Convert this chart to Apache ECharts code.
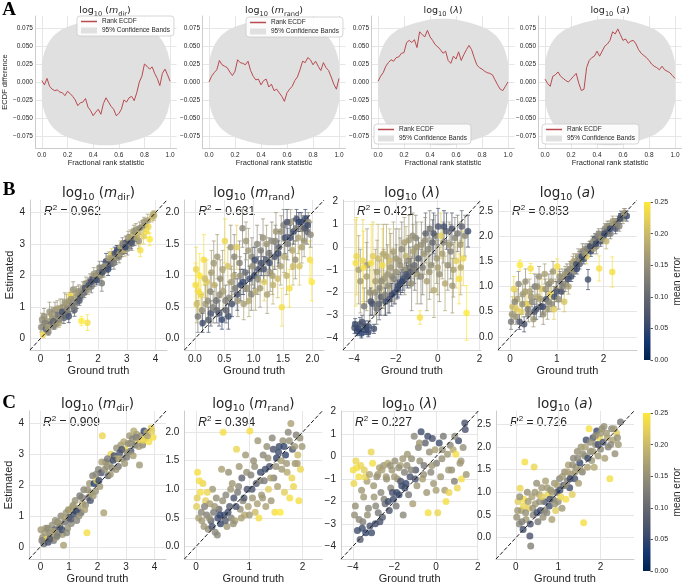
<!DOCTYPE html>
<html>
<head>
<meta charset="utf-8">
<script src="https://cdn.jsdelivr.net/npm/echarts@6/dist/echarts.min.js"></script>
<style>
html, body { margin: 0; padding: 0; background: #fff; }
#chart { width: 683px; height: 585px; }
</style>
</head>
<body>
<div id="chart"></div>
<script>
// ---------- data ----------
// rank ECDF difference, sampled on an even grid over [0, 1]
var ecdfMdir = [0.002,-0.004,0.005,-0.006,-0.010,-0.012,-0.011,-0.014,-0.015,-0.019,
  -0.013,-0.016,-0.020,-0.025,-0.033,-0.029,-0.028,-0.023,-0.035,-0.040,
  -0.047,-0.042,-0.038,-0.045,-0.030,-0.022,-0.028,-0.034,-0.038,-0.047,
  -0.044,-0.038,-0.025,-0.028,-0.022,-0.020,-0.026,-0.015,0.000,0.008,
  0.025,0.022,0.018,0.021,0.012,0.005,-0.005,0.012,0.018,0.010,0.001];
var ecdfMrand = [0.000,0.008,0.013,0.017,0.030,0.024,0.022,0.020,0.014,0.009,
  0.015,0.031,0.027,0.026,0.024,0.029,0.016,0.008,0.003,0.004,
  -0.004,0.002,0.004,-0.007,-0.003,-0.012,-0.010,-0.015,-0.020,-0.027,
  -0.015,-0.010,-0.006,0.002,0.007,0.017,0.029,0.027,0.034,0.031,
  0.024,0.029,0.022,0.016,0.027,0.020,0.016,0.007,-0.003,-0.010,0.005];
var ecdfLam = [0.001,0.008,0.013,0.022,0.027,0.031,0.029,0.034,0.035,0.040,
  0.041,0.055,0.058,0.055,0.059,0.048,0.070,0.066,0.063,0.072,
  0.063,0.058,0.052,0.049,0.045,0.040,0.043,0.030,0.026,0.036,
  0.032,0.042,0.030,0.038,0.045,0.051,0.045,0.034,0.024,0.020,
  0.018,0.015,0.013,0.012,0.010,0.003,-0.004,-0.010,-0.012,-0.006,0.000];
var ecdfA = [0.004,-0.002,-0.006,0.008,0.010,0.014,0.008,0.005,0.002,0.000,
  0.004,0.008,0.012,-0.002,-0.012,-0.010,0.020,0.030,0.034,0.036,
  0.043,0.036,0.043,0.050,0.053,0.058,0.070,0.067,0.074,0.066,
  0.058,0.060,0.054,0.057,0.058,0.053,0.045,0.040,0.037,0.034,
  0.030,0.025,0.022,0.020,0.017,0.022,0.017,0.015,0.013,0.009,0.005];

// 95% confidence band half-width
var bandX  = [0,0.02,0.04,0.06,0.08,0.1,0.15,0.2,0.25,0.3,0.35,0.4,0.45,0.5,0.55,0.6,0.65,0.7,0.75,0.8,0.85,0.9,0.92,0.94,0.96,0.98,1];
var bandHi = [0.028,0.042,0.051,0.057,0.062,0.066,0.073,0.077,0.080,0.083,0.085,0.087,0.088,0.088,0.088,0.087,0.085,0.083,0.080,0.077,0.073,0.066,0.062,0.057,0.051,0.042,0.028];

// SBC with posterior std: [ground truth, estimate, sd, mean error]
var mdirB = [[0.02,0.35,0.15,0.14],[0.08,0.12,0.1,0.23],[0.12,0.7,0.25,0.15],[0.18,0.3,0.12,0.08],[0.22,0.55,0.2,0.16],
  [0.27,0.2,0.1,0.13],[0.31,0.85,0.3,0.15],[0.35,0.45,0.15,0.1],[0.41,0.65,0.2,0.17],[0.46,0.4,0.12,0.12],
  [0.5,0.9,0.25,0.14],[0.55,0.6,0.2,0.16],[0.6,0.75,0.2,0.11],[0.63,0.5,0.15,0.18],[0.68,0.95,0.3,0.15],
  [0.72,0.7,0.2,0.13],[0.77,1.0,0.25,0.16],[0.81,0.65,0.18,0.09],[0.86,0.85,0.2,0.14],[0.9,1.1,0.3,0.17],
  [0.95,0.8,0.2,0.12],[1.0,1.2,0.25,0.16],[1.04,1.35,0.15,0.24],[1.08,1.05,0.2,0.13],[1.13,1.55,0.25,0.15],
  [1.18,0.9,0.2,0.08],[1.22,1.3,0.2,0.17],[1.27,1.15,0.2,0.11],[1.33,1.5,0.2,0.14],[1.38,1.35,0.15,0.07],
  [1.42,0.55,0.15,0.25],[1.47,1.6,0.2,0.15],[1.52,1.45,0.15,0.1],[1.58,1.75,0.2,0.16],[1.63,0.5,0.25,0.24],
  [1.68,1.7,0.15,0.06],[1.72,1.85,0.2,0.14],[1.77,1.65,0.2,0.12],[1.83,1.9,0.15,0.07],[1.88,1.85,0.2,0.15],
  [1.93,2.0,0.15,0.1],[1.97,1.95,0.15,0.17],[2.03,2.1,0.2,0.13],[2.08,2.0,0.15,0.16],[2.13,1.75,0.25,0.12],
  [2.17,2.25,0.2,0.08],[2.22,2.15,0.2,0.18],[2.28,2.45,0.25,0.06],[2.33,2.3,0.2,0.14],[2.37,2.55,0.2,0.17],
  [2.42,2.35,0.15,0.07],[2.47,2.65,0.2,0.22],[2.52,2.5,0.2,0.13],[2.58,2.7,0.2,0.06],[2.63,2.55,0.2,0.16],
  [2.67,2.8,0.15,0.05],[2.73,2.6,0.2,0.12],[2.78,2.9,0.2,0.18],[2.82,2.75,0.15,0.06],[2.87,2.95,0.15,0.15],
  [2.92,2.8,0.2,0.2],[2.97,3.05,0.2,0.07],[3.02,2.85,0.2,0.14],[3.07,3.1,0.2,0.08],[3.12,3.2,0.25,0.16],
  [3.17,3.0,0.2,0.12],[3.22,3.3,0.2,0.19],[3.27,3.15,0.2,0.09],[3.32,3.45,0.2,0.16],[3.37,3.35,0.2,0.21],
  [3.42,3.1,0.25,0.15],[3.47,2.8,0.2,0.24],[3.53,3.55,0.2,0.18],[3.58,3.25,0.25,0.22],[3.63,3.6,0.2,0.14],
  [3.68,3.4,0.2,0.24],[3.73,3.75,0.2,0.17],[3.8,3.15,0.2,0.25],[3.88,3.85,0.15,0.2],[3.95,3.9,0.15,0.19],
  [0.05,0.6,0.2,0.15],[0.15,0.5,0.15,0.13],[0.25,0.35,0.15,0.17],[0.38,0.75,0.25,0.16],[0.44,0.55,0.15,0.09],
  [0.52,0.45,0.15,0.15],[0.58,0.95,0.25,0.17],[0.66,0.6,0.2,0.14],[0.75,0.85,0.2,0.07],[0.84,1.15,0.3,0.16],
  [0.92,0.95,0.2,0.14],[0.98,0.7,0.2,0.06],[1.06,1.25,0.2,0.15],[1.15,1.0,0.2,0.12],[1.25,1.45,0.2,0.16],
  [1.35,1.2,0.15,0.08],[1.45,1.4,0.15,0.13],[1.55,1.6,0.2,0.07],[1.65,1.55,0.15,0.15],[1.75,1.8,0.15,0.06],
  [1.85,2.05,0.2,0.16],[1.95,1.85,0.15,0.05],[2.05,2.25,0.2,0.14],[2.15,2.1,0.15,0.06],[2.25,2.3,0.2,0.15],
  [2.35,2.2,0.2,0.05],[2.45,2.55,0.2,0.16],[2.55,2.4,0.2,0.12],[2.65,2.75,0.2,0.07],[2.75,2.7,0.2,0.17],
  [2.85,3.0,0.2,0.13],[2.95,2.9,0.2,0.05],[3.05,3.2,0.2,0.17],[3.15,3.05,0.2,0.07],[3.25,3.4,0.2,0.15],
  [3.35,3.2,0.2,0.18],[3.45,3.5,0.2,0.14],[3.6,3.7,0.15,0.16],[3.75,3.55,0.2,0.23],[3.92,3.95,0.1,0.18]];
var mrandB = [[0.01,0.85,0.35,0.24],[0.03,0.55,0.3,0.2],[0.05,0.35,0.25,0.12],[0.08,1.0,0.35,0.25],[0.1,0.7,0.3,0.23],
  [0.13,0.25,0.15,0.06],[0.15,1.25,0.4,0.24],[0.18,0.55,0.3,0.16],[0.2,0.9,0.35,0.22],[0.23,0.3,0.2,0.08],
  [0.26,0.75,0.3,0.14],[0.28,1.05,0.35,0.17],[0.31,0.5,0.25,0.13],[0.33,0.85,0.3,0.19],[0.36,0.6,0.25,0.11],
  [0.38,1.3,0.35,0.16],[0.41,0.4,0.2,0.07],[0.43,0.95,0.3,0.15],[0.46,0.3,0.15,0.05],[0.48,0.75,0.3,0.17],
  [0.51,1.55,0.35,0.23],[0.53,0.45,0.2,0.09],[0.56,1.15,0.3,0.21],[0.58,0.65,0.25,0.14],[0.61,1.45,0.35,0.15],
  [0.63,0.55,0.2,0.07],[0.66,1.0,0.3,0.18],[0.68,0.8,0.25,0.12],[0.71,1.45,0.35,0.22],[0.73,0.6,0.25,0.16],
  [0.76,1.2,0.35,0.13],[0.78,0.85,0.25,0.06],[0.81,1.75,0.3,0.14],[0.83,0.55,0.25,0.17],[0.86,1.05,0.3,0.1],
  [0.88,0.8,0.25,0.15],[0.91,1.4,0.35,0.16],[0.93,0.95,0.2,0.06],[0.96,0.7,0.25,0.13],[0.98,1.15,0.3,0.15],
  [1.01,1.0,0.2,0.05],[1.03,0.75,0.3,0.18],[1.06,1.5,0.3,0.14],[1.08,1.1,0.2,0.07],[1.11,0.8,0.3,0.16],
  [1.13,1.2,0.2,0.06],[1.16,1.6,0.3,0.15],[1.18,0.9,0.3,0.22],[1.21,1.25,0.25,0.08],[1.23,0.7,0.3,0.17],
  [1.26,1.35,0.25,0.12],[1.28,1.05,0.3,0.15],[1.31,1.55,0.3,0.14],[1.33,0.85,0.3,0.19],[1.36,1.3,0.2,0.07],
  [1.38,1.7,0.3,0.16],[1.41,0.95,0.3,0.2],[1.43,1.45,0.25,0.09],[1.46,1.15,0.3,0.17],[1.48,0.5,0.3,0.24],
  [1.51,1.8,0.25,0.13],[1.53,1.6,0.25,0.06],[1.56,1.0,0.3,0.19],[1.58,1.5,0.25,0.12],[1.61,0.8,0.3,0.24],
  [1.63,1.85,0.2,0.16],[1.66,1.4,0.3,0.18],[1.68,1.7,0.2,0.05],[1.71,1.25,0.3,0.15],[1.73,1.9,0.15,0.07],
  [1.76,1.6,0.25,0.17],[1.78,1.15,0.3,0.21],[1.81,1.85,0.15,0.06],[1.83,1.75,0.2,0.14],[1.86,1.55,0.25,0.16],
  [1.88,1.9,0.15,0.05],[1.91,1.7,0.2,0.1],[1.93,1.85,0.15,0.15],[1.96,1.25,0.3,0.24],[1.99,0.9,0.3,0.25],
  [0.02,1.1,0.35,0.23],[0.06,0.75,0.3,0.24],[0.12,0.45,0.25,0.14],[0.17,0.95,0.3,0.2],[0.22,0.6,0.3,0.15],
  [0.27,0.4,0.2,0.07],[0.32,1.2,0.35,0.16],[0.37,0.45,0.2,0.1],[0.42,0.7,0.25,0.15],[0.47,1.1,0.3,0.17],
  [0.52,0.6,0.25,0.13],[0.57,0.35,0.2,0.06],[0.62,0.9,0.25,0.16],[0.67,1.3,0.35,0.14],[0.72,0.7,0.25,0.07],
  [0.77,1.0,0.3,0.15],[0.82,0.9,0.2,0.05],[0.87,1.55,0.3,0.16],[0.92,0.6,0.25,0.18],[0.97,1.3,0.3,0.14],
  [1.02,1.25,0.2,0.06],[1.07,0.95,0.25,0.15],[1.12,1.4,0.25,0.13],[1.17,1.1,0.2,0.07],[1.22,1.5,0.3,0.16],
  [1.27,1.2,0.2,0.06],[1.32,1.0,0.3,0.17],[1.37,1.55,0.25,0.14],[1.42,1.35,0.2,0.06],[1.47,1.7,0.25,0.15],
  [1.52,1.3,0.25,0.18],[1.57,1.85,0.2,0.07],[1.62,1.6,0.2,0.06],[1.67,1.15,0.3,0.2],[1.72,1.75,0.2,0.12],
  [1.77,1.85,0.15,0.05],[1.82,1.45,0.25,0.17],[1.87,1.75,0.2,0.08],[1.92,1.8,0.15,0.06],[1.97,1.65,0.2,0.14]];
var lamB = [[-3.98,-3.55,0.25,0.07],[-3.92,-0.7,1.9,0.24],[-3.85,-3.7,0.2,0.05],[-3.78,-1.0,1.5,0.17],[-3.72,-3.4,0.3,0.08],
  [-3.65,-3.8,0.2,0.04],[-3.58,-0.6,1.8,0.23],[-3.52,-2.6,0.8,0.12],[-3.45,-3.5,0.25,0.06],[-3.38,-0.8,1.6,0.16],
  [-3.32,-3.75,0.2,0.05],[-3.25,-2.0,1.3,0.15],[-3.18,-0.7,1.7,0.24],[-3.12,-2.5,0.5,0.07],[-3.05,-3.6,0.2,0.06],
  [-2.98,-1.5,1.4,0.17],[-2.92,-2.7,0.7,0.11],[-2.85,-0.5,1.5,0.2],[-2.78,-1.8,1.2,0.14],[-2.72,-2.2,0.8,0.09],
  [-2.65,-0.8,1.6,0.24],[-2.58,-1.4,1.3,0.16],[-2.52,-2.1,0.9,0.13],[-2.45,-0.4,1.4,0.18],[-2.38,-1.7,1.2,0.15],
  [-2.32,-2.3,0.6,0.07],[-2.25,-0.9,1.5,0.16],[-2.18,-1.3,1.1,0.14],[-2.12,-0.2,1.3,0.17],[-2.05,-2.0,0.5,0.06],
  [-1.98,-1.1,1.2,0.15],[-1.92,-1.85,0.4,0.05],[-1.85,-0.6,1.4,0.16],[-1.78,-1.6,0.5,0.06],[-1.72,-0.1,1.2,0.14],
  [-1.65,-1.4,0.5,0.07],[-1.58,-1.0,1.1,0.15],[-1.52,-0.4,1.3,0.19],[-1.45,-1.3,0.5,0.06],[-1.38,0.3,1.1,0.16],
  [-1.32,-0.9,0.9,0.12],[-1.25,-1.6,1.2,0.15],[-1.18,-0.2,1.2,0.17],[-1.12,-0.8,0.8,0.1],[-1.05,0.4,1.0,0.14],
  [-0.98,-1.2,1.3,0.16],[-0.92,-0.5,0.9,0.08],[-0.85,-3.1,0.3,0.24],[-0.78,0.1,1.0,0.15],[-0.72,-0.9,1.2,0.13],
  [-0.65,-0.3,0.9,0.16],[-0.58,0.6,0.9,0.09],[-0.52,-1.5,1.3,0.17],[-0.45,-0.1,1.0,0.14],[-0.38,0.8,0.8,0.12],
  [-0.32,-0.8,1.2,0.15],[-0.25,0.2,1.0,0.1],[-0.18,-1.9,1.2,0.18],[-0.12,0.5,0.9,0.13],[-0.05,-0.5,1.1,0.16],
  [0.02,0.9,0.8,0.07],[0.08,-1.2,1.2,0.15],[0.15,0.5,1.0,0.22],[0.22,-0.3,1.1,0.17],[0.28,0.2,0.9,0.14],
  [0.35,-1.6,1.2,0.18],[0.42,0.7,0.8,0.08],[0.48,-0.8,1.1,0.15],[0.55,0.1,1.0,0.16],[0.62,-0.2,1.2,0.13],
  [0.68,0.8,0.7,0.07],[0.75,-1.0,1.2,0.17],[0.82,0.4,0.9,0.14],[0.88,-0.6,1.2,0.22],[0.95,0.6,0.8,0.12],
  [1.02,-1.4,1.1,0.24],[1.08,0.1,1.0,0.16],[1.15,0.9,0.7,0.09],[1.22,-0.5,1.2,0.23],[1.3,0.5,0.9,0.14],
  [1.38,-2.9,1.2,0.25],[1.45,0.7,0.7,0.06],
  [-3.95,-3.4,0.25,0.06],[-3.88,-0.4,1.7,0.23],[-3.8,-3.6,0.2,0.05],[-3.7,-1.5,1.4,0.16],[-3.62,-3.3,0.3,0.07],
  [-3.55,-0.9,1.6,0.24],[-3.48,-3.65,0.2,0.05],[-3.4,-1.3,1.5,0.17],[-3.3,-3.5,0.25,0.06],[-3.2,-2.4,0.6,0.07],
  [-3.1,-0.4,1.5,0.22],[-3.0,-2.0,1.0,0.15],[-2.9,-1.1,1.4,0.17],[-2.8,-2.5,0.7,0.09],[-2.7,-1.5,1.2,0.15],
  [-2.6,-0.3,1.3,0.18],[-2.5,-2.4,0.6,0.06],[-2.4,-1.2,1.3,0.16],[-2.3,-0.6,1.4,0.2],[-2.2,-2.1,0.5,0.05],
  [-2.1,-1.4,1.1,0.14],[-2.0,-0.5,1.3,0.16],[-1.9,-1.7,0.5,0.06],[-1.8,-0.8,1.2,0.15],[-1.7,-1.5,0.5,0.05],
  [-1.6,0.2,1.1,0.17],[-1.5,-1.2,0.5,0.07],[-1.4,-0.6,1.1,0.14],[-1.3,-1.1,0.6,0.08],[-1.2,0.5,1.0,0.15],
  [-1.1,-1.0,0.9,0.12],[-1.0,0.0,1.1,0.16],[-0.8,-1.3,1.2,0.14],[-0.6,0.3,1.0,0.15],[-0.4,-1.1,1.2,0.16],
  [-0.2,0.6,0.9,0.08],[0.0,-0.9,1.2,0.17],[0.3,0.9,0.7,0.06],[0.7,-1.7,1.2,0.16],[1.1,-0.9,1.2,0.18]];
var aB = [[0.02,0.3,0.15,0.12],[0.05,0.6,0.2,0.2],[0.08,0.95,0.25,0.23],[0.12,0.4,0.15,0.15],[0.15,0.75,0.2,0.17],
  [0.18,1.05,0.25,0.14],[0.21,1.43,0.1,0.25],[0.24,0.5,0.2,0.22],[0.27,0.85,0.2,0.16],[0.3,0.25,0.15,0.07],
  [0.33,1.1,0.25,0.15],[0.36,0.65,0.2,0.23],[0.39,0.45,0.15,0.13],[0.42,0.9,0.25,0.17],[0.44,1.36,0.1,0.24],
  [0.47,0.7,0.2,0.14],[0.5,0.35,0.15,0.16],[0.53,1.0,0.25,0.12],[0.56,0.55,0.2,0.06],[0.59,0.8,0.2,0.18],
  [0.62,1.2,0.2,0.15],[0.65,0.6,0.2,0.08],[0.68,0.95,0.2,0.22],[0.71,0.45,0.2,0.15],[0.74,1.25,0.2,0.17],
  [0.77,0.75,0.15,0.07],[0.8,0.55,0.2,0.16],[0.83,1.05,0.2,0.13],[0.86,0.85,0.2,0.23],[0.89,0.65,0.15,0.14],
  [0.92,1.3,0.2,0.16],[0.95,0.8,0.2,0.06],[0.98,0.95,0.2,0.17],[1.01,1.4,0.15,0.24],[1.04,0.75,0.2,0.15],
  [1.07,1.1,0.2,0.13],[1.1,0.9,0.2,0.07],[1.13,1.2,0.15,0.16],[1.16,0.7,0.2,0.21],[1.19,1.05,0.15,0.14],
  [1.22,1.3,0.15,0.12],[1.25,1.0,0.15,0.17],[1.28,1.35,0.15,0.15],[1.31,1.2,0.1,0.06],[1.34,1.45,0.15,0.16],
  [1.37,1.3,0.1,0.13],[1.4,1.5,0.15,0.18],[1.43,1.35,0.1,0.05],[1.46,1.6,0.15,0.15],[1.49,1.45,0.1,0.09],
  [1.52,1.55,0.1,0.17],[1.55,1.7,0.15,0.13],[1.58,1.55,0.1,0.06],[1.61,1.75,0.1,0.15],[1.64,1.6,0.15,0.22],
  [1.67,1.14,0.2,0.06],[1.7,1.8,0.1,0.16],[1.73,1.7,0.1,0.05],[1.76,1.85,0.15,0.14],[1.79,1.75,0.1,0.17],
  [1.82,1.95,0.1,0.07],[1.85,1.8,0.15,0.15],[1.88,2.0,0.1,0.13],[1.91,1.36,0.25,0.24],[1.94,1.9,0.1,0.06],
  [1.97,2.05,0.1,0.16],[2.0,2.0,0.1,0.05],[2.03,2.15,0.1,0.14],[2.06,1.9,0.15,0.19],[2.09,2.1,0.1,0.08],
  [2.12,2.2,0.1,0.15],[2.15,2.05,0.1,0.12],[2.19,1.29,0.3,0.24],[2.22,2.25,0.1,0.16],[2.26,2.15,0.1,0.07],
  [2.3,2.3,0.1,0.15],[2.34,2.2,0.1,0.13],[2.38,2.4,0.1,0.06],[2.42,2.35,0.1,0.16],[2.46,2.45,0.1,0.12],[2.5,2.4,0.1,0.05],
  [0.04,0.45,0.15,0.16],[0.1,0.7,0.2,0.14],[0.14,0.55,0.2,0.22],[0.2,0.3,0.15,0.07],[0.26,0.65,0.2,0.15],
  [0.32,0.9,0.2,0.17],[0.38,0.55,0.15,0.12],[0.45,0.8,0.2,0.16],[0.52,0.5,0.15,0.08],[0.58,1.0,0.2,0.15],
  [0.64,0.75,0.2,0.17],[0.7,0.6,0.15,0.06],[0.76,0.95,0.2,0.15],[0.82,0.7,0.2,0.14],[0.88,1.1,0.2,0.16],
  [0.94,0.55,0.2,0.22],[1.0,0.9,0.2,0.07],[1.06,1.2,0.15,0.15],[1.12,1.0,0.15,0.13],[1.18,1.25,0.15,0.16],
  [1.24,1.15,0.15,0.06],[1.3,1.35,0.15,0.15],[1.36,1.5,0.15,0.17],[1.42,1.45,0.1,0.06],[1.48,1.55,0.15,0.14],
  [1.54,1.6,0.1,0.05],[1.6,1.65,0.1,0.16],[1.66,1.75,0.1,0.13],[1.72,1.8,0.1,0.06],[1.78,1.9,0.1,0.15],
  [1.84,1.85,0.1,0.05],[1.9,2.05,0.1,0.14],[1.96,1.95,0.1,0.16],[2.02,2.05,0.1,0.06],[2.08,2.2,0.1,0.15],
  [2.14,2.15,0.1,0.05],[2.2,2.3,0.1,0.16],[2.28,2.25,0.1,0.13],[2.36,2.35,0.1,0.06],[2.44,2.45,0.1,0.16]];

// point estimates only: [ground truth, estimate, mean error]
var mdirC = [[0.02,0.55,0.16],[0.08,0.3,0.15],[0.12,0.1,0.1],[0.18,0.6,0.17],[0.22,0.25,0.23],
  [0.27,0.15,0.06],[0.31,0.45,0.14],[0.35,0.35,0.16],[0.41,0.7,0.15],[0.46,0.2,0.12],
  [0.5,0.55,0.09],[0.55,0.3,0.17],[0.6,0.8,0.13],[0.63,0.45,0.15],[0.68,0.65,0.07],
  [0.72,1.0,0.14],[0.77,0.4,0.16],[0.81,0.05,0.17],[0.86,0.8,0.11],[0.9,1.1,0.16],
  [0.95,0.6,0.15],[1.0,0.95,0.07],[1.04,1.2,0.24],[1.08,0.75,0.14],[1.13,1.3,0.17],
  [1.18,1.05,0.06],[1.22,1.5,0.15],[1.27,0.85,0.13],[1.33,1.25,0.16],[1.38,1.65,0.12],
  [1.42,1.1,0.1],[1.47,1.4,0.18],[1.52,1.85,0.14],[1.58,1.35,0.15],[1.63,0.45,0.24],
  [1.68,1.6,0.12],[1.72,2.05,0.16],[1.77,1.75,0.17],[1.83,2.3,0.13],[1.88,2.05,0.04],
  [1.93,1.8,0.15],[1.97,2.15,0.22],[2.03,2.5,0.14],[2.08,1.95,0.16],[2.13,2.4,0.07],
  [2.17,3.6,0.23],[2.22,1.1,0.17],[2.28,2.75,0.13],[2.33,2.6,0.15],[2.37,2.3,0.09],
  [2.42,2.7,0.16],[2.47,3.0,0.23],[2.52,2.55,0.14],[2.58,2.95,0.06],[2.63,2.85,0.17],
  [2.67,3.2,0.15],[2.73,2.6,0.12],[2.78,3.05,0.07],[2.82,3.3,0.16],[2.87,2.85,0.14],
  [2.92,3.4,0.18],[2.97,3.15,0.23],[3.02,2.9,0.12],[3.07,3.35,0.15],[3.12,3.6,0.16],
  [3.17,3.1,0.08],[3.22,3.5,0.14],[3.27,3.75,0.18],[3.32,3.3,0.11],[3.37,3.65,0.17],
  [3.42,3.45,0.22],[3.47,2.65,0.16],[3.53,3.6,0.15],[3.58,3.3,0.14],[3.63,3.75,0.05],
  [3.68,3.5,0.23],[3.73,3.7,0.19],[3.8,3.4,0.24],[3.88,3.85,0.22],[3.95,3.55,0.24],
  [0.05,0.2,0.13],[0.15,0.45,0.16],[0.25,0.6,0.14],[0.33,0.25,0.08],[0.44,0.5,0.17],
  [0.52,0.85,0.15],[0.58,0.35,0.12],[0.66,0.75,0.16],[0.75,0.55,0.06],[0.84,0.95,0.17],
  [0.92,0.45,0.14],[0.98,1.2,0.15],[1.06,0.9,0.08],[1.15,1.35,0.16],[1.25,1.15,0.05],
  [1.35,1.0,0.15],[1.45,1.6,0.13],[1.55,1.2,0.17],[1.65,1.85,0.15],[1.75,1.5,0.07],
  [1.85,1.65,0.16],[1.95,2.35,0.14],[2.05,2.15,0.05],[2.15,2.75,0.17],[2.25,2.5,0.15],
  [2.35,2.85,0.12],[2.45,2.35,0.16],[2.55,2.8,0.06],[2.65,2.5,0.15],[2.75,2.85,0.17],
  [2.85,3.15,0.07],[2.95,2.7,0.16],[3.05,3.05,0.14],[3.15,3.35,0.15],[3.25,2.95,0.17],
  [3.35,3.55,0.13],[3.45,3.25,0.16],[3.6,3.45,0.23],[3.75,3.6,0.17],[3.9,3.75,0.22]];
var mrandC = [[0.01,0.7,0.22],[0.03,1.3,0.24],[0.05,0.5,0.17],[0.08,0.95,0.24],[0.1,0.6,0.14],
  [0.13,1.1,0.23],[0.15,0.35,0.16],[0.18,0.8,0.22],[0.2,0.55,0.13],[0.23,0.3,0.15],
  [0.26,0.75,0.17],[0.28,0.45,0.09],[0.31,1.0,0.16],[0.33,0.6,0.12],[0.36,0.25,0.14],
  [0.38,0.85,0.15],[0.41,0.5,0.06],[0.43,0.65,0.1],[0.46,0.4,0.05],[0.48,1.35,0.17],
  [0.51,2.0,0.24],[0.53,0.55,0.06],[0.56,0.9,0.14],[0.58,0.35,0.16],[0.61,1.3,0.15],
  [0.63,0.7,0.08],[0.66,0.5,0.13],[0.68,1.1,0.16],[0.71,0.85,0.07],[0.73,0.45,0.17],
  [0.76,1.7,0.23],[0.78,0.95,0.12],[0.81,1.4,0.16],[0.83,0.65,0.15],[0.86,1.2,0.09],
  [0.88,0.8,0.14],[0.91,0.55,0.18],[0.93,1.6,0.16],[0.96,1.0,0.07],[0.98,0.7,0.17],
  [1.01,2.02,0.24],[1.03,1.25,0.13],[1.06,0.85,0.16],[1.08,1.5,0.15],[1.11,0.6,0.2],
  [1.13,1.1,0.08],[1.16,1.85,0.16],[1.18,0.5,0.24],[1.21,1.3,0.06],[1.23,0.9,0.16],
  [1.26,1.6,0.14],[1.28,1.15,0.12],[1.31,0.7,0.17],[1.33,1.75,0.15],[1.36,1.0,0.22],
  [1.38,1.4,0.07],[1.41,0.8,0.16],[1.43,1.9,0.14],[1.46,1.2,0.13],[1.48,0.6,0.24],
  [1.51,1.55,0.05],[1.53,1.05,0.17],[1.56,1.75,0.06],[1.58,0.6,0.25],[1.61,1.35,0.16],
  [1.63,1.85,0.15],[1.66,0.95,0.22],[1.68,1.6,0.05],[1.71,1.3,0.18],[1.73,2.0,0.14],
  [1.76,0.85,0.24],[1.78,2.15,0.17],[1.81,1.7,0.07],[1.83,1.05,0.23],[1.86,1.45,0.16],
  [1.88,1.95,0.13],[1.91,1.6,0.2],[1.93,0.8,0.24],[1.96,1.35,0.23],[1.99,1.75,0.16],
  [0.02,0.85,0.22],[0.06,1.15,0.24],[0.11,0.45,0.16],[0.16,0.7,0.13],[0.21,0.95,0.23],
  [0.25,0.5,0.15],[0.3,0.35,0.07],[0.35,0.7,0.16],[0.4,0.2,0.14],[0.45,0.55,0.05],
  [0.5,0.8,0.15],[0.55,0.45,0.08],[0.6,0.6,0.06],[0.65,1.0,0.16],[0.7,0.4,0.15],
  [0.75,0.7,0.07],[0.8,1.05,0.14],[0.85,0.5,0.17],[0.9,0.85,0.08],[0.95,1.3,0.15],
  [1.0,0.55,0.16],[1.05,1.0,0.07],[1.1,1.4,0.15],[1.15,0.75,0.17],[1.2,1.15,0.13],
  [1.25,0.85,0.16],[1.3,1.35,0.06],[1.35,1.55,0.15],[1.4,1.2,0.17],[1.45,1.7,0.07],
  [1.5,1.4,0.15],[1.55,1.65,0.06],[1.6,1.5,0.17],[1.65,1.75,0.05],[1.7,1.45,0.16],
  [1.75,1.85,0.15],[1.8,1.2,0.23],[1.85,1.75,0.16],[1.9,1.45,0.17],[1.95,1.9,0.15]];
var lamC = [[-3.98,-0.6,0.24],[-3.92,-2.6,0.15],[-3.85,-0.2,0.23],[-3.78,-3.3,0.06],[-3.72,-0.9,0.24],
  [-3.65,-3.7,0.08],[-3.58,-1.5,0.16],[-3.52,-2.9,0.13],[-3.45,-0.6,0.22],[-3.38,-3.4,0.05],
  [-3.32,-1.1,0.17],[-3.25,-2.3,0.14],[-3.18,-3.1,0.07],[-3.12,0.2,0.23],[-3.05,-0.3,0.24],
  [-2.98,-1.8,0.16],[-2.92,-3.0,0.06],[-2.85,-0.9,0.15],[-2.78,-2.5,0.12],[-2.72,-0.5,0.17],
  [-2.65,-1.6,0.14],[-2.58,-2.7,0.08],[-2.52,-0.4,0.16],[-2.45,-2.1,0.1],[-2.38,-1.0,0.15],
  [-2.32,-0.3,0.18],[-2.25,-2.4,0.07],[-2.18,-1.4,0.14],[-2.12,-0.6,0.16],[-2.05,-1.9,0.06],
  [-1.98,-0.2,0.15],[-1.92,-2.2,0.12],[-1.85,-1.0,0.16],[-1.78,-1.7,0.05],[-1.72,-0.4,0.17],
  [-1.65,-1.3,0.06],[-1.58,-2.6,0.14],[-1.52,-0.7,0.13],[-1.45,-1.2,0.05],[-1.38,0.1,0.16],
  [-1.32,-1.7,0.12],[-1.25,-0.9,0.07],[-1.18,-0.1,0.15],[-1.12,-2.1,0.17],[-1.05,0.9,0.14],
  [-0.98,-0.6,0.08],[-0.92,-1.3,0.16],[-0.85,0.4,0.13],[-0.78,-0.2,0.15],[-0.72,1.1,0.06],
  [-0.65,-1.0,0.17],[-0.58,-0.4,0.12],[-0.52,0.6,0.09],[-0.45,-1.6,0.16],[-0.38,-2.5,0.24],
  [-0.32,0.2,0.15],[-0.25,-0.7,0.14],[-0.18,0.8,0.07],[-0.12,-1.2,0.16],[-0.05,0.3,0.17],
  [0.02,-0.3,0.13],[0.08,-2.5,0.23],[0.15,0.6,0.06],[0.22,-0.9,0.16],[0.28,-0.1,0.15],
  [0.35,0.9,0.12],[0.42,-1.5,0.17],[0.48,-2.0,0.24],[0.55,0.1,0.16],[0.62,-1.6,0.23],
  [0.68,0.5,0.14],[0.75,-0.6,0.15],[0.82,0.3,0.18],[0.88,-1.1,0.13],[0.95,0.1,0.24],
  [1.02,-1.4,0.23],[1.08,0.7,0.06],[1.15,-0.3,0.16],[1.22,-1.0,0.24],[1.3,0.4,0.15],
  [1.38,1.5,0.07],[1.45,-0.8,0.16],
  [-3.95,-1.2,0.23],[-3.88,-2.2,0.15],[-3.8,-0.5,0.24],[-3.7,-2.8,0.14],[-3.62,-0.4,0.23],
  [-3.55,-3.2,0.06],[-3.48,-1.8,0.16],[-3.4,-0.9,0.23],[-3.3,-2.6,0.15],[-3.2,-0.8,0.17],
  [-3.1,-3.4,0.06],[-3.0,-1.3,0.16],[-2.9,-2.2,0.14],[-2.8,-0.8,0.16],[-2.7,-2.9,0.07],
  [-2.6,-0.6,0.17],[-2.5,-1.9,0.13],[-2.4,-0.9,0.16],[-2.3,-2.0,0.06],[-2.2,-0.4,0.15],
  [-2.1,-1.6,0.07],[-2.0,-0.9,0.16],[-1.9,-1.6,0.06],[-1.8,-0.5,0.15],[-1.7,-1.1,0.07],
  [-1.6,-0.1,0.16],[-1.5,-1.4,0.06],[-1.4,-0.4,0.15],[-1.2,-0.6,0.14],[-1.0,-1.0,0.07],
  [-0.8,0.6,0.16],[-0.6,-0.8,0.15],[-0.4,0.9,0.06],[-0.2,-0.4,0.16],[0.0,-1.5,0.17],
  [0.3,0.3,0.15],[0.6,-0.6,0.16],[0.9,0.9,0.14],[1.2,-0.2,0.16],[1.4,1.2,0.07]];
var aC = [[0.02,0.45,0.15],[0.05,0.8,0.22],[0.08,0.3,0.14],[0.1,1.09,0.23],[0.13,0.6,0.17],
  [0.17,0.18,0.06],[0.19,0.85,0.24],[0.21,1.67,0.24],[0.24,0.4,0.16],[0.27,1.0,0.15],
  [0.3,0.65,0.22],[0.33,0.04,0.07],[0.35,-0.18,0.13],[0.38,0.9,0.17],[0.41,0.5,0.14],
  [0.43,1.56,0.23],[0.46,0.75,0.16],[0.49,1.2,0.15],[0.52,0.35,0.12],[0.55,0.95,0.18],
  [0.58,0.6,0.06],[0.61,1.1,0.16],[0.64,0.45,0.15],[0.67,0.8,0.08],[0.7,1.25,0.17],
  [0.73,0.55,0.14],[0.76,0.95,0.23],[0.79,0.7,0.06],[0.82,1.05,0.15],[0.85,0.4,0.17],
  [0.88,0.85,0.13],[0.91,1.2,0.16],[0.94,0.6,0.22],[0.97,1.0,0.07],[1.0,0.8,0.15],
  [1.03,1.3,0.14],[1.06,0.9,0.23],[1.09,0.65,0.16],[1.12,1.15,0.05],[1.15,1.45,0.15],
  [1.18,0.85,0.24],[1.21,1.25,0.13],[1.24,1.6,0.17],[1.27,1.1,0.06],[1.3,1.4,0.16],
  [1.33,0.95,0.22],[1.36,1.75,0.14],[1.39,1.3,0.07],[1.42,1.55,0.16],[1.45,1.9,0.15],
  [1.48,1.2,0.17],[1.51,1.65,0.05],[1.54,2.0,0.16],[1.57,1.45,0.13],[1.6,0.33,0.24],
  [1.63,1.8,0.15],[1.66,2.15,0.06],[1.69,1.55,0.17],[1.73,2.4,0.24],[1.76,1.9,0.14],
  [1.79,1.7,0.16],[1.82,2.2,0.07],[1.85,1.55,0.18],[1.88,2.05,0.15],[1.91,2.35,0.05],
  [1.94,1.8,0.16],[1.97,2.2,0.23],[2.0,1.95,0.14],[2.03,2.4,0.15],[2.06,2.1,0.07],
  [2.1,1.75,0.17],[2.14,2.3,0.16],[2.18,2.0,0.13],[2.22,1.3,0.24],[2.26,2.4,0.14],
  [2.3,2.15,0.17],[2.34,1.85,0.15],[2.38,2.3,0.22],[2.42,2.05,0.16],[2.47,2.55,0.12],
  [0.04,0.6,0.16],[0.09,0.9,0.15],[0.14,0.35,0.13],[0.18,0.7,0.23],[0.23,0.55,0.15],
  [0.29,0.8,0.16],[0.34,0.3,0.07],[0.4,0.65,0.15],[0.45,1.0,0.16],[0.5,0.55,0.06],
  [0.56,0.8,0.15],[0.62,0.9,0.22],[0.68,0.6,0.14],[0.74,1.1,0.16],[0.8,0.85,0.07],
  [0.86,1.0,0.16],[0.92,0.75,0.15],[0.98,1.15,0.17],[1.04,1.05,0.06],[1.1,1.35,0.16],
  [1.16,1.15,0.15],[1.22,1.45,0.17],[1.28,1.3,0.06],[1.34,1.6,0.15],[1.4,1.45,0.16],
  [1.46,1.75,0.14],[1.52,1.5,0.16],[1.58,1.85,0.15],[1.64,2.0,0.17],[1.7,1.75,0.06],
  [1.76,2.1,0.15],[1.82,1.9,0.16],[1.88,2.25,0.14],[1.94,2.05,0.07],[2.0,2.3,0.16],
  [2.08,2.45,0.15],[2.16,2.2,0.17],[2.24,2.05,0.14],[2.32,2.4,0.16],[2.4,2.2,0.15]];

var r2B = ['0.962', '0.631', '0.421', '0.853'];
var r2C = ['0.909', '0.394', '0.227', '0.726'];
var errRange = [0, 0.25];

// tick labels
var ticksAx = [0, 0.2, 0.4, 0.6, 0.8, 1.0];
var ticksAy = [-0.075, -0.05, -0.025, 0, 0.025, 0.05, 0.075];
var ticksBx = [[0,1,2,3,4], [0,0.5,1,1.5,2], [-4,-2,0,2], [0,1,2]];
var ticksCx = [[0,1,2,3,4], [0,1,2], [-4,-2,0,2], [0,1,2]];
var ticksY  = [[0,1,2,3,4], [0,0.5,1,1.5,2], [-4,-3,-2,-1,0,1,2], [0,0.5,1,1.5,2,2.5]];
var decBx = [0, 1, 0, 0], decCx = [0, 0, 0, 0], decY = [0, 1, 0, 1];

var titles = [
  '{n|log}{s|10}{n| (}{i|m}{s|dir}{n|)}',
  '{n|log}{s|10}{n| (}{i|m}{s|rand}{n|)}',
  '{n|log}{s|10}{n| (}{i|\u03bb}{n|)}',
  '{n|log}{s|10}{n| (}{i|a}{n|)}'
];

// cividis
var cividis = ['#00224e', '#123570', '#3b496c', '#575d6d', '#707173', '#8a8779', '#a69d75', '#c4b56c', '#e4cf5b', '#fee838'];

// ---------- layout ----------
var ecdfs = [ecdfMdir, ecdfMrand, ecdfLam, ecdfA];
var sbcB = [mdirB, mrandB, lamB, aB];
var sbcC = [mdirC, mrandC, lamC, aC];
var gridA = [33.5, 202.5, 371.5, 538.5];
var gridB = [[30, 137], [184.4, 139.7], [343, 138], [498, 139]];
var gridC = [[29, 137], [184.3, 138], [341, 137.3], [496, 138]];
var rangeB = [[-0.37, 4.4], [-0.18, 2.2], [-4.53, 2.07], [-0.26, 2.72]];
var rangeC = [[-0.4, 4.4], [-0.22, 2.37], [-4.57, 2.03], [-0.47, 2.79]];
var legendPos = [[77, 16], [246, 17], [374, 124], [542, 124]];

var RED = '#b94a4f', BAND = '#e0e0e0', FONT = 'Liberation Sans';
// horizontal bar inside a 16x6 box, used as the line icon in the legend
var LINE_ICON = 'path://M0,0L0.01,0L0,0.01Z M0,6L0.01,6L0,5.99Z M0,2.3L16,2.3L16,3.7L0,3.7Z';

function fmtNum(v, d) {
  var s = (+v).toFixed(d);
  if (s.charAt(0) === '-') s = parseFloat(s) === 0 ? s.slice(1) : '\u2212' + s.slice(1);
  return s;
}

function valueAxis(gi, range, ticks, dec, o) {
  var ax = {
    type: 'value', gridIndex: gi, min: range[0], max: range[1],
    axisLine: { show: true, onZero: false, lineStyle: { color: '#cccccc', width: 1 } },
    axisTick: { show: false, customValues: ticks },
    axisLabel: {
      customValues: ticks, fontSize: o.fs, margin: o.margin, color: '#262626', fontFamily: FONT,
      formatter: function (v) { return fmtNum(v, dec); }
    },
    splitLine: { show: true, lineStyle: { color: '#e6e6e6', width: 1 } }
  };
  if (o.name) {
    ax.name = o.name;
    ax.nameLocation = 'middle';
    ax.nameGap = o.nameGap;
    if (o.rot) ax.nameRotate = o.rot;
    ax.nameTextStyle = { fontSize: o.nameSize, color: '#262626', fontFamily: FONT };
  }
  return ax;
}

function errBar(params, api) {
  var x = api.value(0), y = api.value(1), s = api.value(2);
  var hi = api.coord([x, y + s]), lo = api.coord([x, y - s]);
  var st = { stroke: api.visual('color'), lineWidth: 1, opacity: 0.7 };
  return { type: 'group', children: [
    { type: 'line', shape: { x1: hi[0], y1: hi[1], x2: lo[0], y2: lo[1] }, style: st },
    { type: 'line', shape: { x1: hi[0] - 2, y1: hi[1], x2: hi[0] + 2, y2: hi[1] }, style: st },
    { type: 'line', shape: { x1: lo[0] - 2, y1: lo[1], x2: lo[0] + 2, y2: lo[1] }, style: st }
  ]};
}

function titleText(str, cx, cy, f) {
  var sub = f * 0.7;
  return {
    type: 'text', x: cx, y: cy, silent: true,
    style: {
      text: str, align: 'center', verticalAlign: 'middle', fontFamily: 'DejaVu Sans', fontSize: f, fill: '#262626',
      rich: {
        n: { fontSize: f, fontFamily: 'DejaVu Sans', lineHeight: f * 1.35, fill: '#262626' },
        i: { fontSize: f, fontFamily: 'DejaVu Sans', fontStyle: 'italic', lineHeight: f * 1.35, fill: '#262626' },
        s: { fontSize: sub, fontFamily: 'DejaVu Sans', lineHeight: sub, verticalAlign: 'bottom', fill: '#262626' }
      }
    }
  };
}

function r2Text(val, x, cy) {
  return {
    type: 'text', x: x, y: cy, silent: true,
    style: {
      text: '{i|R}{p|2}{n| = ' + val + '}', align: 'left', verticalAlign: 'middle', fontFamily: FONT, fontSize: 12, fill: '#262626',
      rich: {
        i: { fontSize: 12, fontFamily: FONT, fontStyle: 'italic', lineHeight: 16, fill: '#262626' },
        p: { fontSize: 8, fontFamily: FONT, lineHeight: 8, verticalAlign: 'top', fill: '#262626' },
        n: { fontSize: 12, fontFamily: FONT, lineHeight: 16, fill: '#262626' }
      }
    }
  };
}

function letter(t, x, y) {
  return { type: 'text', x: x, y: y, silent: true,
    style: { text: t, align: 'center', verticalAlign: 'middle', fontFamily: 'Liberation Serif', fontWeight: 'bold', fontSize: 19, fill: '#000' } };
}

var grids = [], xAxes = [], yAxes = [], series = [], legends = [], graphics = [];
var vmB = [], vmC = [];

// ---------- row A ----------
for (var i = 0; i < 4; i++) {
  var g = grids.length;
  grids.push({ left: gridA[i], top: 16, width: 143, height: 132 });
  xAxes.push(valueAxis(g, [-0.05, 1.05], ticksAx, 1, { fs: 6.5, margin: 3.5, name: 'Fractional rank statistic', nameGap: 11, nameSize: 7.5 }));
  yAxes.push(valueAxis(g, [-0.092, 0.092], ticksAy, 3, i === 0
    ? { fs: 6.5, margin: 2.5, name: 'ECDF difference', nameGap: 23, nameSize: 7.5, rot: 90 }
    : { fs: 6.5, margin: 2.5 }));
  var up = bandX.map(function (x, k) { return [x, bandHi[k]]; });
  var dn = bandX.map(function (x, k) { return [x, -bandHi[k]]; });
  [up, dn].forEach(function (d) {
    series.push({ type: 'line', name: '95% Confidence Bands', xAxisIndex: g, yAxisIndex: g, data: d,
      symbol: 'none', color: BAND, lineStyle: { width: 0, color: BAND }, areaStyle: { color: BAND, opacity: 1 }, silent: true, z: 1 });
  });
  var e = ecdfs[i];
  series.push({ type: 'line', name: 'Rank ECDF', xAxisIndex: g, yAxisIndex: g,
    data: e.map(function (v, k) { return [k / (e.length - 1), v]; }),
    symbol: 'none', color: RED, itemStyle: { color: RED }, lineStyle: { width: 1, color: RED }, silent: true, z: 3 });
  legends.push({
    left: legendPos[i][0], top: legendPos[i][1], orient: 'vertical',
    data: [{ name: 'Rank ECDF', icon: LINE_ICON, itemStyle: { color: RED, borderWidth: 0 } },
           { name: '95% Confidence Bands', icon: 'rect', itemStyle: { color: BAND, borderWidth: 0 } }],
    itemWidth: 16, itemHeight: 6, itemGap: 2, padding: [2, 4, 2, 4],
    backgroundColor: 'rgba(255,255,255,0.85)', borderColor: '#cccccc', borderWidth: 0.8, borderRadius: 3,
    textStyle: { fontSize: 6.5, color: '#262626', fontFamily: FONT }, selectedMode: false
  });
  graphics.push(titleText(titles[i], gridA[i] + 71.5, 11, 9.5));
}

// ---------- rows B and C ----------
function scatterRow(rows, gpos, ranges, top, height, xticks, xdec, withErr, vmList, xo) {
  for (var i = 0; i < 4; i++) {
    var g = grids.length, r = ranges[i];
    grids.push({ left: gpos[i][0], top: top, width: gpos[i][1], height: height });
    xAxes.push(valueAxis(g, r, xticks[i], xdec[i], { fs: 10, margin: xo.margin, name: 'Ground truth', nameGap: xo.nameGap, nameSize: 11 }));
    yAxes.push(valueAxis(g, r, ticksY[i], decY[i], i === 0
      ? { fs: 10, margin: 5, name: 'Estimated', nameGap: 13, nameSize: 11, rot: 90 }
      : { fs: 10, margin: 5 }));
    if (withErr) {
      vmList.push(series.length);
      series.push({ type: 'custom', xAxisIndex: g, yAxisIndex: g, data: rows[i], renderItem: errBar,
        encode: { x: 0, y: 1 }, clip: true, silent: true, z: 2 });
    }
    vmList.push(series.length);
    series.push({ type: 'scatter', xAxisIndex: g, yAxisIndex: g, data: rows[i], encode: { x: 0, y: 1 },
      symbolSize: withErr ? 6.5 : 7, itemStyle: { opacity: 0.8 }, silent: true, z: 3 });
    series.push({ type: 'line', xAxisIndex: g, yAxisIndex: g, data: [[r[0], r[0]], [r[1], r[1]]],
      symbol: 'none', lineStyle: { type: [4, 2], color: '#1a1a1a', width: 1 }, silent: true, z: 4 });
    graphics.push(titleText(titles[i], gpos[i][0] + gpos[i][1] / 2, top - 7, 13.5));
  }
}
scatterRow(sbcB, gridB, rangeB, 200, 150, ticksBx, decBx, true, vmB, { margin: 4, nameGap: 15 });
scatterRow(sbcC, gridC, rangeC, 411, 152, ticksCx, decCx, false, vmC, { margin: 3, nameGap: 12 });

for (var j = 0; j < 4; j++) {
  graphics.push(r2Text(r2B[j], gridB[j][0] + 14, 212));
  graphics.push(r2Text(r2C[j], gridC[j][0] + 14, 423));
}
graphics.push(letter('A', 9, 10), letter('B', 9, 190), letter('C', 9, 403));

// ---------- colorbars ----------
var stops = cividis.map(function (c, k) { return { offset: 1 - k / (cividis.length - 1), color: c }; }).reverse();
[[644, 202, 9, 158], [643, 413, 8, 158]].forEach(function (p) {
  var g = grids.length;
  grids.push({ left: p[0], top: p[1], width: p[2], height: p[3] });
  xAxes.push({ type: 'category', gridIndex: g, data: ['cb'], show: false });
  yAxes.push({
    type: 'value', gridIndex: g, position: 'right', min: errRange[0], max: errRange[1], interval: 0.05,
    axisLine: { show: false }, splitLine: { show: false },
    axisTick: { show: true, length: 2.5, lineStyle: { color: '#262626', width: 0.8 } },
    axisLabel: { fontSize: 7, margin: 4, color: '#262626', fontFamily: FONT, formatter: function (v) { return v.toFixed(2); } },
    name: 'mean error', nameLocation: 'middle', nameRotate: 90, nameGap: 20,
    nameTextStyle: { fontSize: 10, color: '#262626', fontFamily: FONT }
  });
  series.push({ type: 'bar', xAxisIndex: g, yAxisIndex: g, data: [errRange[1]], barWidth: '100%', silent: true,
    itemStyle: { color: new echarts.graphic.LinearGradient(0, 0, 0, 1, stops) } });
});

var option = {
  animation: false,
  backgroundColor: '#ffffff',
  textStyle: { fontFamily: FONT },
  grid: grids, xAxis: xAxes, yAxis: yAxes, series: series, legend: legends,
  visualMap: [
    { type: 'continuous', show: false, seriesIndex: vmB, dimension: 3, min: errRange[0], max: errRange[1], inRange: { color: cividis } },
    { type: 'continuous', show: false, seriesIndex: vmC, dimension: 2, min: errRange[0], max: errRange[1], inRange: { color: cividis } }
  ],
  graphic: graphics
};

var chart = echarts.init(document.getElementById('chart'));
chart.setOption(option);
</script>
</body>
</html>
